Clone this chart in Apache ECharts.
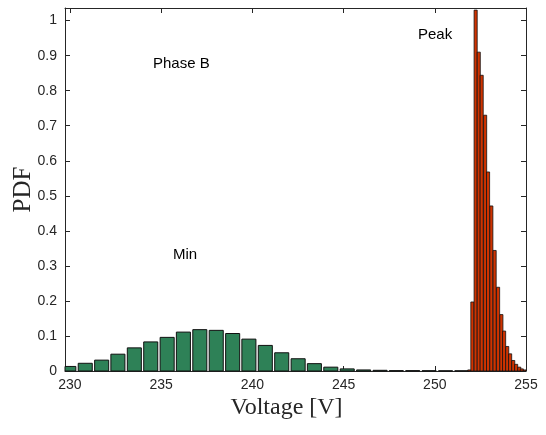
<!DOCTYPE html>
<html><head><meta charset="utf-8">
<script src="https://cdn.jsdelivr.net/npm/echarts@6/dist/echarts.min.js"></script>
<style>html,body{margin:0;padding:0;background:#fff}#c{width:546px;height:435px}</style>
</head><body><div id="c"></div>
<script>
// Data
const minCenters = [229.94,230.84,231.74,232.63,233.53,234.43,235.33,236.22,237.12,238.02,238.92,239.81,240.71,241.61,242.51,243.40,244.30,245.20,246.10,247.00,247.89,248.79,249.69,250.59,251.48];
const minPdf = [0.013,0.022,0.031,0.048,0.066,0.083,0.096,0.111,0.118,0.116,0.107,0.091,0.073,0.052,0.035,0.021,0.011,0.006,0.003,0.002,0.001,0.001,0.0008,0.0005,0.0005];
const peakCenters = [251.89,252.06,252.24,252.41,252.57,252.76,252.92,253.10,253.28,253.47,253.65,253.80,253.97,254.13,254.30,254.46,254.63,254.77,254.94];
const peakPdf = [0.003,0.197,1.03,0.91,0.844,0.73,0.568,0.471,0.344,0.239,0.161,0.114,0.070,0.049,0.030,0.019,0.011,0.006,0.003];
const xTicks = [230,235,240,245,250,255];
const yTicks = [0,0.1,0.2,0.3,0.4,0.5,0.6,0.7,0.8,0.9,1];
const labels = {x:'Voltage [V]', y:'PDF', phase:'Phase B', peak:'Peak', min:'Min'};

const X_MIN = 229.73, X_MAX = 255, Y_MAX = 1.036;
const MIN_BAR_W = 0.77, PEAK_BAR_W = 0.17; // bar widths in volts
const axisCol = '#262626';
const lbl = {color:'#262626', fontFamily:'Liberation Sans, Arial, sans-serif', fontSize:14};

const chart = echarts.init(document.getElementById('c'), null, {renderer:'canvas'});
const xBase = (pos, show) => ({
  type:'value', position:pos, min:X_MIN, max:X_MAX,
  axisLine:{show:true, onZero:false, lineStyle:{color:axisCol, width:1}},
  axisTick:{show:true, inside:true, length:5, customValues:xTicks, lineStyle:{color:axisCol}},
  axisLabel:{show:show, customValues:xTicks, margin:7, ...lbl},
  splitLine:{show:false}
});
const yBase = (pos, show) => ({
  type:'value', position:pos, min:0, max:Y_MAX,
  axisLine:{show:true, onZero:false, lineStyle:{color:axisCol, width:1}},
  axisTick:{show:true, inside:true, length:5, customValues:yTicks, lineStyle:{color:axisCol}},
  axisLabel:{show:show, customValues:yTicks, margin:8, formatter:v=>String(Math.round(v*10)/10), ...lbl},
  splitLine:{show:false}
});
const xa0 = xBase('bottom', true);
Object.assign(xa0, {name:labels.x, nameLocation:'middle', nameGap:25, nameMoveOverlap:false,
  nameTextStyle:{fontFamily:'Liberation Serif, Times New Roman, serif', fontSize:24, color:'#262626', padding:[0,18,0,0]}});
const ya0 = yBase('left', true);
Object.assign(ya0, {name:labels.y, nameLocation:'middle', nameGap:29, nameMoveOverlap:false,
  nameTextStyle:{fontFamily:'Liberation Serif, Times New Roman, serif', fontSize:25, color:'#262626'}});

function barRenderer(widthV){
  return function(params, api){
    const x = api.value(0), y = api.value(1);
    const pTop = api.coord([x - widthV/2, y]);
    const pBot = api.coord([x + widthV/2, 0]);
    const cs = params.coordSys;
    const rect = echarts.graphic.clipRectByRect(
      {x:pTop[0], y:pTop[1], width:pBot[0]-pTop[0], height:pBot[1]-pTop[1]},
      {x:cs.x, y:cs.y, width:cs.width, height:cs.height});
    if (!rect) return null;
    return {type:'rect', shape:rect, style:api.style()};
  };
}

chart.setOption({
  animation:false,
  grid:{left:65, right:20, top:8, bottom:64, outerBoundsMode:'none', containLabel:false},
  xAxis:[xa0, xBase('top', false)],
  yAxis:[ya0, yBase('right', false)],
  series:[
    {type:'custom', xAxisIndex:0, yAxisIndex:0, renderItem:barRenderer(MIN_BAR_W),
     itemStyle:{color:'#2e8157', borderColor:'#111', borderWidth:1},
     encode:{x:0, y:1},
     data:minCenters.map((c,i)=>[c,minPdf[i]])},
    {type:'custom', xAxisIndex:0, yAxisIndex:0, renderItem:barRenderer(PEAK_BAR_W),
     itemStyle:{color:'#cf3300', borderColor:'#111', borderWidth:0.8},
     encode:{x:0, y:1},
     data:peakCenters.map((c,i)=>[c,peakPdf[i]])}
  ],
  graphic:[
    {type:'text', left:153, top:56, style:{text:labels.phase, fill:'#000', font:'15px Liberation Sans, Arial, sans-serif'}},
    {type:'text', left:418, top:27, style:{text:labels.peak, fill:'#000', font:'15px Liberation Sans, Arial, sans-serif'}},
    {type:'text', left:173, top:247, style:{text:labels.min, fill:'#000', font:'15px Liberation Sans, Arial, sans-serif'}}
  ]
});
</script></body></html>
